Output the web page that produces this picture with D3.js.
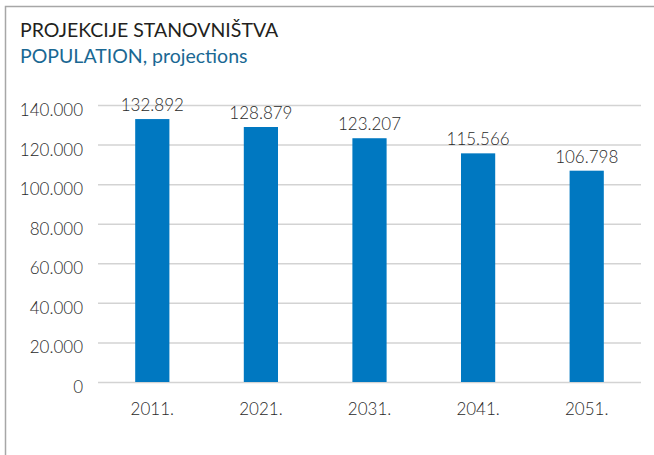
<!DOCTYPE html>
<html>
<head>
<meta charset="utf-8">
<script src="https://cdn.jsdelivr.net/npm/d3@7"></script>
<style>
  body { margin: 0; background: #fff; }
  text { font-family: Lato, "Open Sans", sans-serif; }
</style>
</head>
<body>
<div id="chart"></div>
<script>
var years = ["2011.", "2021.", "2031.", "2041.", "2051."];
var population = [132892, 128879, 123207, 115566, 106798];
var yTicks = [0, 20000, 40000, 60000, 80000, 100000, 120000, 140000];

var width = 654, height = 455;
var plotLeft = 98, plotRight = 641, plotTop = 105, plotBottom = 382;

var svg = d3.select("#chart").append("svg")
    .attr("width", width)
    .attr("height", height);

// frame
svg.append("path")
    .attr("d", "M5.5,455 V6.5 H654")
    .attr("fill", "none")
    .attr("stroke", "#a7a7a7")
    .attr("stroke-width", 1.5);

svg.append("text")
    .attr("x", 20).attr("y", 37)
    .attr("font-size", "19.5px")
    .attr("fill", "#231f20")
    .text("PROJEKCIJE STANOVNIŠTVA");

svg.append("text")
    .attr("x", 20).attr("y", 63)
    .attr("font-size", "19.5px")
    .attr("fill", "#1a6893")
    .text("POPULATION, projections");

var x = d3.scaleBand()
    .domain(years)
    .range([plotLeft, plotRight])
    .paddingInner(0.685)
    .paddingOuter(0.3425);

var y = d3.scaleLinear()
    .domain([0, 140000])
    .range([plotBottom, plotTop]);

var fmt = function(v) {
    return d3.format(",")(v).replace(/,/g, ".");
};

// gridlines + y labels
var yAxis = d3.axisLeft(y)
    .tickValues(yTicks)
    .tickSize(-(plotRight - plotLeft))
    .tickPadding(15)
    .tickFormat(fmt);

var gy = svg.append("g")
    .attr("transform", "translate(" + plotLeft + ",0)")
    .call(yAxis);
gy.select(".domain").remove();
gy.selectAll(".tick line")
    .attr("stroke", "#d3d3d3")
    .attr("stroke-width", 1.5);
gy.selectAll(".tick text")
    .attr("font-size", "17px")
    .attr("font-weight", 300)
    .attr("fill", "#2a2a2a")
    .attr("dy", "0.62em");

// bars
svg.selectAll("rect.bar")
    .data(population)
    .enter()
    .append("rect")
    .attr("class", "bar")
    .attr("x", function(d, i) { return x(years[i]); })
    .attr("y", function(d) { return y(d); })
    .attr("width", x.bandwidth())
    .attr("height", function(d) { return plotBottom - y(d); })
    .attr("fill", "#0078c1");

// value labels
svg.selectAll("text.val")
    .data(population)
    .enter()
    .append("text")
    .attr("class", "val")
    .attr("x", function(d, i) { return x(years[i]) + x.bandwidth() / 2; })
    .attr("y", function(d) { return y(d) - 8; })
    .attr("text-anchor", "middle")
    .attr("font-size", "17px")
    .attr("font-weight", 300)
    .attr("fill", "#2a2a2a")
    .text(fmt);

// x labels
var xAxis = d3.axisBottom(x).tickSize(0).tickPadding(21);
var gx = svg.append("g")
    .attr("transform", "translate(0," + plotBottom + ")")
    .call(xAxis);
gx.select(".domain").remove();
gx.selectAll(".tick text")
    .attr("font-size", "17px")
    .attr("font-weight", 300)
    .attr("fill", "#2a2a2a");
</script>
</body>
</html>
